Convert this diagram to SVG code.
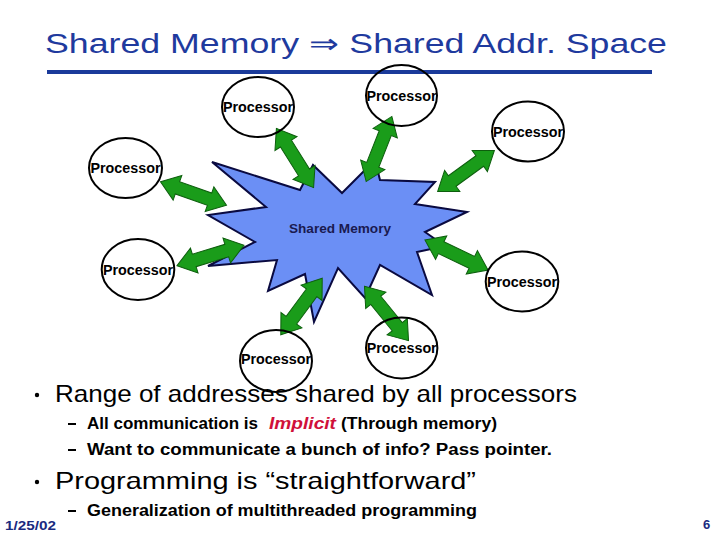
<svg xmlns="http://www.w3.org/2000/svg" width="720" height="540" viewBox="0 0 720 540">
<style>
.proc{font-family:"Liberation Sans",Arial,sans-serif;font-size:14px;font-weight:bold;fill:#000;text-anchor:middle}
.circ{fill:none;stroke:#000;stroke-width:2}
.arrow{fill:#1a9c1a;stroke:#0d5e0d;stroke-width:1}
.b1{font-family:"Liberation Sans",Arial,sans-serif;font-size:24px;fill:#000}
.b2{font-family:"Liberation Sans",Arial,sans-serif;font-size:16px;font-weight:bold;fill:#000}
</style>
<defs>
<path id="dbl" class="arrow" d="M-35,0 L-17,-13 L-17,-6.5 L17,-6.5 L17,-13 L35,0 L17,13 L17,6.5 L-17,6.5 L-17,13 Z"/>
</defs>
<rect width="720" height="540" fill="#fff"/>
<g id="title">
<text x="45" y="53" font-family="Liberation Sans,Arial,sans-serif" font-size="27" fill="#1f3a9e" textLength="622" lengthAdjust="spacingAndGlyphs">Shared Memory ⇒ Shared Addr. Space</text>
<rect x="47" y="70" width="605" height="4" fill="#1a3a9a"/>
</g>
<g id="shared-memory">
<polygon points="212,162 300,190 313,165 342,193 375,160 380,180 435,182 415,204 467,212 425,232 445,246 417,252 432,295 380,265 365,298 338,268 314,322 305,274 268,291 277,260 208,266 255,242 208,215 266,207" fill="#6b8ff5" stroke="#0a0a40" stroke-width="2" stroke-linejoin="miter"/>
<text x="340" y="233" font-family="Liberation Sans,Arial,sans-serif" font-size="13" font-weight="bold" fill="#1a1a50" text-anchor="middle" textLength="102" lengthAdjust="spacingAndGlyphs">Shared Memory</text>
</g>
<g id="connectors">
<use href="#dbl" transform="translate(295,158) rotate(57.9)"/>
<use href="#dbl" transform="translate(379,149) rotate(111.5)"/>
<use href="#dbl" transform="translate(466,171) rotate(144.1)"/>
<use href="#dbl" transform="translate(193.5,193.5) rotate(19.5)"/>
<use href="#dbl" transform="translate(210.5,255.5) rotate(-16.9)"/>
<use href="#dbl" transform="translate(456.5,255) rotate(25.5)"/>
<use href="#dbl" transform="translate(301.5,306.5) rotate(126.3)"/>
<use href="#dbl" transform="translate(386.5,313.5) rotate(51)"/>
</g>
<g id="p1"><ellipse class="circ" cx="258" cy="107" rx="36" ry="30"/><text class="proc" x="258" y="112" textLength="70" lengthAdjust="spacingAndGlyphs">Processor</text></g>
<g id="p2"><ellipse class="circ" cx="401.5" cy="95.5" rx="35.5" ry="30.5"/><text class="proc" x="401.5" y="101" textLength="70" lengthAdjust="spacingAndGlyphs">Processor</text></g>
<g id="p3"><ellipse class="circ" cx="528" cy="131.5" rx="36" ry="30"/><text class="proc" x="528" y="137" textLength="70" lengthAdjust="spacingAndGlyphs">Processor</text></g>
<g id="p4"><ellipse class="circ" cx="125.5" cy="168" rx="36.5" ry="30"/><text class="proc" x="125.5" y="173" textLength="70" lengthAdjust="spacingAndGlyphs">Processor</text></g>
<g id="p5"><ellipse class="circ" cx="138" cy="269.5" rx="36.3" ry="30.5"/><text class="proc" x="138" y="275" textLength="70" lengthAdjust="spacingAndGlyphs">Processor</text></g>
<g id="p6"><ellipse class="circ" cx="522" cy="281.5" rx="36.3" ry="30"/><text class="proc" x="522" y="287" textLength="70" lengthAdjust="spacingAndGlyphs">Processor</text></g>
<g id="p7"><ellipse class="circ" cx="276" cy="361" rx="36" ry="31"/><text class="proc" x="276" y="364" textLength="70" lengthAdjust="spacingAndGlyphs">Processor</text></g>
<g id="p8"><ellipse class="circ" cx="401.7" cy="348" rx="35.7" ry="30.5"/><text class="proc" x="401.7" y="353" textLength="70" lengthAdjust="spacingAndGlyphs">Processor</text></g>
<g id="bullets">
<circle cx="37" cy="395" r="2.2" fill="#000"/>
<text class="b1" x="55" y="402" textLength="522" lengthAdjust="spacingAndGlyphs">Range of addresses shared by all processors</text>
<rect x="68" y="423" width="8" height="2" fill="#000"/>
<text class="b2" x="87" y="429" textLength="171" lengthAdjust="spacingAndGlyphs">All communication is</text>
<text class="b2" x="269" y="429" font-style="italic" style="fill:#d0103a" textLength="67" lengthAdjust="spacingAndGlyphs">Implicit</text>
<text class="b2" x="341" y="429" textLength="156" lengthAdjust="spacingAndGlyphs">(Through memory)</text>
<rect x="68" y="449" width="8" height="2" fill="#000"/>
<text class="b2" x="87" y="455" textLength="465" lengthAdjust="spacingAndGlyphs">Want to communicate a bunch of info?  Pass pointer.</text>
<circle cx="37" cy="482" r="2.2" fill="#000"/>
<text class="b1" x="55" y="489" textLength="421" lengthAdjust="spacingAndGlyphs">Programming is “straightforward”</text>
<rect x="68" y="510" width="8" height="2" fill="#000"/>
<text class="b2" x="87" y="516" textLength="390" lengthAdjust="spacingAndGlyphs">Generalization of multithreaded programming</text>
</g>
<g id="footer">
<text x="5" y="530" font-family="Liberation Sans,Arial,sans-serif" font-size="13" font-weight="bold" fill="#1a2a80" textLength="51" lengthAdjust="spacingAndGlyphs">1/25/02</text>
<text x="703" y="529" font-family="Liberation Sans,Arial,sans-serif" font-size="13" font-weight="bold" fill="#1a2a80">6</text>
</g>
</svg>
